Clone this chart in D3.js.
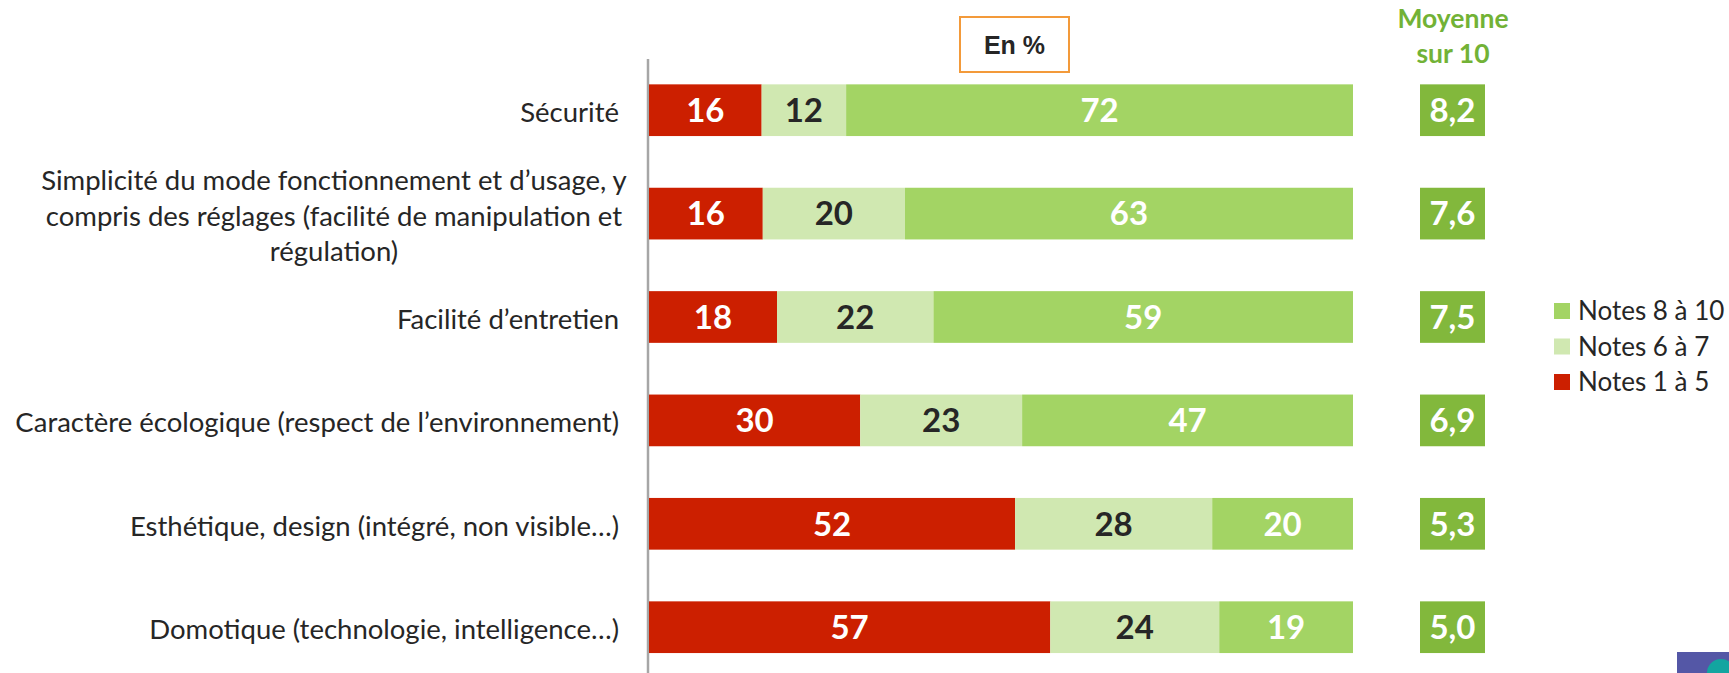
<!DOCTYPE html>
<html lang="fr">
<head>
<meta charset="utf-8">
<title>Notes par critère</title>
<script src="https://d3js.org/d3.v7.min.js"></script>
<style>
  body { margin: 0; background: #fff; }
  svg { display: block; }
</style>
</head>
<body>
<script>
// categories (one entry per row, lines split on \n)
var categories = [
  "Sécurité",
  "Simplicité du mode fonctionnement et d’usage, y\ncompris des réglages (facilité de manipulation et\nrégulation)",
  "Facilité d’entretien",
  "Caractère écologique (respect de l’environnement)",
  "Esthétique, design (intégré, non visible…)",
  "Domotique (technologie, intelligence…)"
];
var notes1a5 = [16, 16, 18, 30, 52, 57];
var notes6a7 = [12, 20, 22, 23, 28, 24];
var notes8a10 = [72, 63, 59, 47, 20, 19];
var moyennes = ["8,2", "7,6", "7,5", "6,9", "5,3", "5,0"];
var seriesNames = ["Notes 1 à 5", "Notes 6 à 7", "Notes 8 à 10"];

var w = 1729, h = 673;
var colors = { "Notes 1 à 5": "#cc1f00", "Notes 6 à 7": "#d0e8b1", "Notes 8 à 10": "#a3d464" };
var labelColors = { "Notes 1 à 5": "#ffffff", "Notes 6 à 7": "#262626", "Notes 8 à 10": "#ffffff" };

var rows = categories.map(function(c, i) {
  return { cat: c, "Notes 1 à 5": notes1a5[i], "Notes 6 à 7": notes6a7[i], "Notes 8 à 10": notes8a10[i], moy: moyennes[i] };
});

// each row fills the full width (some rows sum to 99 after rounding)
var stacked = d3.stack().keys(seriesNames).offset(d3.stackOffsetExpand)(rows);

var x = d3.scaleLinear().domain([0, 1]).range([649, 1353]);
var y = d3.scaleBand().domain(categories).range([58.5, 678.9]).paddingInner(0.5).paddingOuter(0.25);

var svg = d3.select("body").append("svg").attr("width", w).attr("height", h);

// vertical axis line
svg.append("g")
  .attr("transform", "translate(647.5,0)")
  .call(d3.axisLeft(y).tickSize(0).tickFormat(""))
  .call(function(g) { g.select(".domain").attr("stroke", "#a6a6a6").attr("stroke-width", 2.5); });

// bars
var layer = svg.selectAll("g.layer").data(stacked).enter().append("g").attr("class", "layer");
layer.selectAll("rect").data(function(d) { return d.map(function(p) { p.key = d.key; return p; }); })
  .enter().append("rect")
  .attr("x", function(d) { return x(d[0]); })
  .attr("y", function(d) { return y(d.data.cat); })
  .attr("width", function(d) { return x(d[1]) - x(d[0]); })
  .attr("height", y.bandwidth())
  .attr("fill", function(d) { return colors[d.key]; });

layer.selectAll("text").data(function(d) { return d; })
  .enter().append("text")
  .attr("x", function(d) { return (x(d[0]) + x(d[1])) / 2; })
  .attr("y", function(d) { return y(d.data.cat) + y.bandwidth() / 2; })
  .attr("dy", "0.36em")
  .attr("text-anchor", "middle")
  .style("font-family", "Lato, sans-serif")
  .style("font-weight", "bold")
  .style("font-size", "33px")
  .attr("fill", function(d) { return labelColors[d.key]; })
  .text(function(d) { return d.data[d.key]; });

// category labels: single lines right-aligned, wrapped label centred
svg.selectAll("text.cat").data(categories).enter().append("text")
  .attr("class", "cat")
  .style("font-family", "Lato, sans-serif")
  .style("font-size", "27.5px")
  .attr("fill", "#262626")
  .each(function(d) {
    var lines = d.split("\n");
    var multi = lines.length > 1;
    var cy = y(d) + y.bandwidth() / 2;
    var lh = 35.5;
    var t = d3.select(this).attr("text-anchor", multi ? "middle" : "end");
    lines.forEach(function(l, j) {
      t.append("tspan")
        .attr("x", multi ? 334 : 619)
        .attr("y", cy + (j - (lines.length - 1) / 2) * lh + 2)
        .attr("dy", "0.36em")
        .text(l);
    });
  });

// moyenne boxes
svg.selectAll("rect.moy").data(rows).enter().append("rect")
  .attr("class", "moy")
  .attr("x", 1420).attr("width", 65)
  .attr("y", function(d) { return y(d.cat); })
  .attr("height", y.bandwidth())
  .attr("fill", "#82b83c");
svg.selectAll("text.moy").data(rows).enter().append("text")
  .attr("class", "moy")
  .attr("x", 1452.5)
  .attr("y", function(d) { return y(d.cat) + y.bandwidth() / 2; })
  .attr("dy", "0.36em")
  .attr("text-anchor", "middle")
  .style("font-family", "Lato, sans-serif")
  .style("font-weight", "bold")
  .style("font-size", "33px")
  .attr("fill", "#fff")
  .text(function(d) { return d.moy; });

// header "Moyenne sur 10"
svg.append("text").attr("x", 1453).attr("y", 28)
  .attr("text-anchor", "middle")
  .style("font-family", "Lato, sans-serif").style("font-weight", "bold").style("font-size", "26.5px")
  .attr("fill", "#72b236").text("Moyenne");
svg.append("text").attr("x", 1453).attr("y", 63)
  .attr("text-anchor", "middle")
  .style("font-family", "Lato, sans-serif").style("font-weight", "bold").style("font-size", "26.5px")
  .attr("fill", "#72b236").text("sur 10");

// "En %" box
svg.append("rect").attr("x", 960).attr("y", 17).attr("width", 109).attr("height", 55)
  .attr("fill", "#fff").attr("stroke", "#f39a3a").attr("stroke-width", 2);
svg.append("text").attr("x", 1014.5).attr("y", 54)
  .attr("text-anchor", "middle")
  .style("font-family", "'Liberation Sans', Arial, sans-serif").style("font-weight", "bold").style("font-size", "25px")
  .attr("fill", "#262626").text("En %");

// legend
var legendItems = seriesNames.slice().reverse();
var lg = svg.selectAll("g.legend").data(legendItems).enter().append("g")
  .attr("class", "legend")
  .attr("transform", function(d, i) { return "translate(1554," + (303 + i * 35.5) + ")"; });
lg.append("rect").attr("width", 16).attr("height", 16).attr("fill", function(d) { return colors[d]; });
lg.append("text").attr("x", 24).attr("y", 8).attr("dy", "0.36em")
  .style("font-family", "Lato, sans-serif").style("font-size", "26px")
  .attr("fill", "#262626").text(function(d) { return d; });

// logo corner
svg.append("rect").attr("x", 1677).attr("y", 652).attr("width", 52).attr("height", 21).attr("fill", "#5457a6");
svg.append("circle").attr("cx", 1721).attr("cy", 673).attr("r", 14).attr("fill", "#13a5a0");
</script>
</body>
</html>
